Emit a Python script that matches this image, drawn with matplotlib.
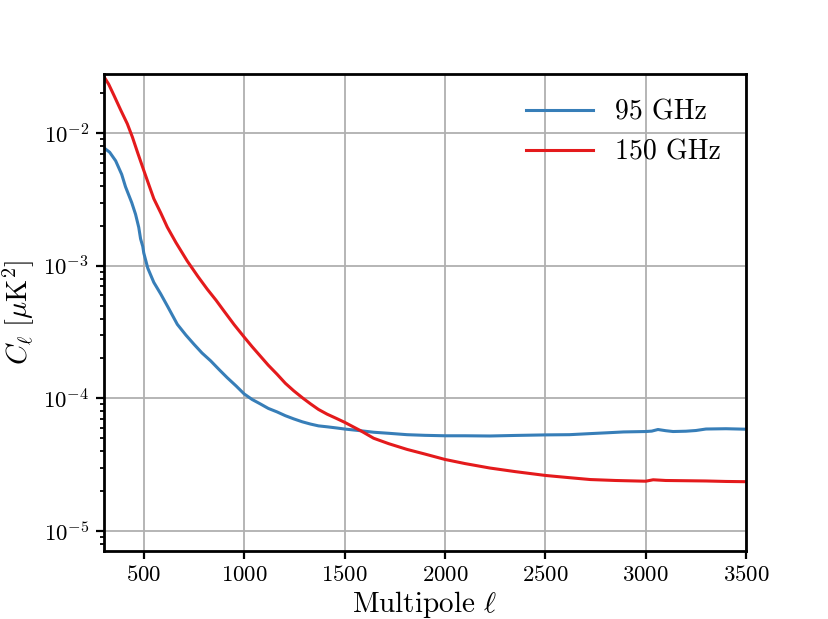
import matplotlib
matplotlib.use("Agg")
import matplotlib.pyplot as plt
from matplotlib.ticker import FuncFormatter, LogLocator, NullFormatter
import numpy as np

plt.rcParams["font.family"] = "cmr10"
plt.rcParams["mathtext.fontset"] = "cm"
plt.rcParams["axes.formatter.use_mathtext"] = True
plt.rcParams["axes.unicode_minus"] = False

# values
ell_95 = [300, 330, 360, 390, 409, 440, 459, 475, 484, 495, 500, 520, 550, 584,
          620, 667, 710, 750, 790, 833, 875, 916, 960, 1000, 1040, 1081, 1120,
          1164, 1205, 1247, 1290, 1330, 1370, 1413, 1460, 1500, 1570, 1645,
          1720, 1811, 1900, 2000, 2100, 2224, 2350, 2500, 2620, 2724, 2810,
          2890, 3000, 3030, 3061, 3100, 3136, 3200, 3250, 3300, 3400, 3500]
cl_95 = [7.8e-3, 7.2e-3, 6.2e-3, 4.9e-3, 3.95e-3, 3.0e-3, 2.45e-3, 1.95e-3,
         1.6e-3, 1.4e-3, 1.25e-3, 9.6e-4, 7.5e-4, 6.15e-4, 4.9e-4, 3.62e-4,
         3.0e-4, 2.56e-4, 2.2e-4, 1.92e-4, 1.65e-4, 1.43e-4, 1.24e-4, 1.08e-4,
         9.8e-5, 9.07e-5, 8.4e-5, 7.9e-5, 7.4e-5, 7.0e-5, 6.65e-5, 6.4e-5,
         6.2e-5, 6.1e-5, 5.98e-5, 5.87e-5, 5.72e-5, 5.55e-5, 5.45e-5, 5.32e-5,
         5.26e-5, 5.22e-5, 5.22e-5, 5.2e-5, 5.25e-5, 5.3e-5, 5.32e-5, 5.42e-5,
         5.5e-5, 5.58e-5, 5.62e-5, 5.66e-5, 5.82e-5, 5.7e-5, 5.62e-5, 5.65e-5,
         5.72e-5, 5.87e-5, 5.9e-5, 5.85e-5]

ell_150 = [300, 325, 351, 385, 418, 443, 470, 500, 525, 550, 585, 617, 660,
           716, 770, 816, 860, 899, 950, 1000, 1040, 1081, 1120, 1164, 1205,
           1247, 1290, 1330, 1370, 1413, 1460, 1500, 1580, 1645, 1720, 1811,
           1900, 2000, 2100, 2224, 2350, 2500, 2620, 2724, 2850, 3000, 3037,
           3100, 3200, 3300, 3400, 3500]
cl_150 = [2.7e-2, 2.35e-2, 1.94e-2, 1.5e-2, 1.18e-2, 9.4e-3, 7.1e-3, 5.25e-3,
          4.1e-3, 3.21e-3, 2.5e-3, 1.96e-3, 1.5e-3, 1.09e-3, 8.3e-4, 6.67e-4,
          5.5e-4, 4.57e-4, 3.6e-4, 2.9e-4, 2.45e-4, 2.08e-4, 1.78e-4, 1.52e-4,
          1.3e-4, 1.14e-4, 1.01e-4, 9.1e-5, 8.25e-5, 7.6e-5, 7.05e-5, 6.6e-5,
          5.7e-5, 5.0e-5, 4.55e-5, 4.12e-5, 3.8e-5, 3.46e-5, 3.22e-5, 2.98e-5,
          2.8e-5, 2.62e-5, 2.52e-5, 2.44e-5, 2.4e-5, 2.37e-5, 2.43e-5, 2.4e-5,
          2.39e-5, 2.38e-5, 2.36e-5, 2.35e-5]

fig, ax = plt.subplots(figsize=(8.29, 6.19), dpi=100)
fig.subplots_adjust(left=0.125, right=0.9, bottom=0.11, top=0.88)

ax.plot(ell_95, cl_95, color="#377eb8", lw=2.2, label="95 GHz")
ax.plot(ell_150, cl_150, color="#e41a1c", lw=2.2, label="150 GHz")

ax.set_yscale("log")
ax.set_xlim(300, 3500)
ax.set_ylim(7.06e-6, 2.79e-2)
ax.yaxis.set_major_locator(LogLocator(base=10))
ax.yaxis.set_major_formatter(FuncFormatter(lambda v, p: r"$10^{%d}$" % round(np.log10(v))))
ax.yaxis.set_minor_formatter(NullFormatter())
ax.grid(True, color="#b0b0b0", lw=1.3)

for s in ax.spines.values():
    s.set_linewidth(2)
ax.tick_params(which="major", labelsize=16.5, width=1.6, length=5.5, pad=5)
ax.tick_params(which="minor", width=1.3, length=3)

ax.set_xlabel(r"Multipole $\ell$", fontsize=21, labelpad=2.5)
ax.set_ylabel(r"$C_\ell\ [\mu\mathrm{K}^2]$", fontsize=20.5)
ax.legend(loc="upper right", frameon=False, fontsize=20, handlelength=2.4)

fig.savefig("out.png")
